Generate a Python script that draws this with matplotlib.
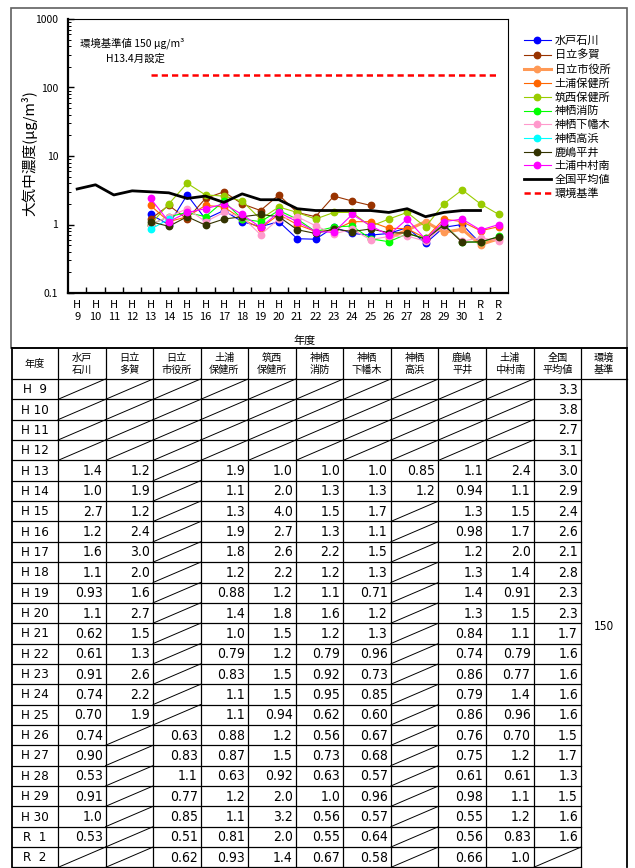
import numpy as np
import matplotlib
matplotlib.use('Agg')
import matplotlib.pyplot as plt
from matplotlib.patches import Rectangle
from matplotlib import font_manager

plt.rcParams['font.family'] = ['Noto Sans CJK JP', 'DejaVu Sans']


def pick_narrow():
    # 表の数字は細身のフォントで描く (無ければ通常の Liberation Sans)
    for fam, stretch in [('Liberation Sans Narrow', 'normal'),
                         ('DejaVu Sans', 'condensed')]:
        try:
            prop = font_manager.FontProperties(family=fam, stretch=stretch)
            path = font_manager.findfont(prop, fallback_to_default=False)
            if 'Narrow' in path or 'Condensed' in path:
                return dict(family=fam, stretch=stretch)
        except Exception:
            pass
    return dict(family='Liberation Sans', stretch='normal')


NARROW = pick_narrow()

W, H = 635, 868
nan = np.nan

# 年度
years = ['H9', 'H10', 'H11', 'H12', 'H13', 'H14', 'H15', 'H16', 'H17', 'H18',
         'H19', 'H20', 'H21', 'H22', 'H23', 'H24', 'H25', 'H26', 'H27', 'H28',
         'H29', 'H30', 'R1', 'R2']
year_ticks = [y[0] + '\n' + y[1:] for y in years]
year_rows = ['H  9', 'H 10', 'H 11', 'H 12', 'H 13', 'H 14', 'H 15', 'H 16',
             'H 17', 'H 18', 'H 19', 'H 20', 'H 21', 'H 22', 'H 23', 'H 24',
             'H 25', 'H 26', 'H 27', 'H 28', 'H 29', 'H 30', 'R  1', 'R  2']

# 測定局ごとの年平均値 (μg/m3)
mito_ishikawa = [nan] * 4 + [1.4, 1.0, 2.7, 1.2, 1.6, 1.1, 0.93, 1.1, 0.62, 0.61,
                             0.91, 0.74, 0.70, 0.74, 0.90, 0.53, 0.91, 1.0, 0.53, nan]
hitachi_taga = [nan] * 4 + [1.2, 1.9, 1.2, 2.4, 3.0, 2.0, 1.6, 2.7, 1.5, 1.3,
                            2.6, 2.2, 1.9, nan, nan, nan, nan, nan, nan, nan]
hitachi_shiyakusho = [nan] * 17 + [0.63, 0.83, 1.1, 0.77, 0.85, 0.51, 0.62]
tsuchiura_hokenjo = [nan] * 4 + [1.9, 1.1, 1.3, 1.9, 1.8, 1.2, 0.88, 1.4, 1.0, 0.79,
                                 0.83, 1.1, 1.1, 0.88, 0.87, 0.63, 1.2, 1.1, 0.81, 0.93]
chikusei_hokenjo = [nan] * 4 + [1.0, 2.0, 4.0, 2.7, 2.6, 2.2, 1.2, 1.8, 1.5, 1.2,
                                1.5, 1.5, 0.94, 1.2, 1.5, 0.92, 2.0, 3.2, 2.0, 1.4]
kamisu_shobo = [nan] * 4 + [1.0, 1.3, 1.5, 1.3, 2.2, 1.2, 1.1, 1.6, 1.2, 0.79,
                            0.92, 0.95, 0.62, 0.56, 0.73, 0.63, 1.0, 0.56, 0.55, 0.67]
kamisu_shimohataki = [nan] * 4 + [1.0, 1.3, 1.7, 1.1, 1.5, 1.3, 0.71, 1.2, 1.3, 0.96,
                                  0.73, 0.85, 0.60, 0.67, 0.68, 0.57, 0.96, 0.57, 0.64, 0.58]
kamisu_takahama = [nan] * 4 + [0.85, 1.2] + [nan] * 18
kashima_hirai = [nan] * 4 + [1.1, 0.94, 1.3, 0.98, 1.2, 1.3, 1.4, 1.3, 0.84, 0.74,
                             0.86, 0.79, 0.86, 0.76, 0.75, 0.61, 0.98, 0.55, 0.56, 0.66]
tsuchiura_nakamura = [nan] * 4 + [2.4, 1.1, 1.5, 1.7, 2.0, 1.4, 0.91, 1.5, 1.1, 0.79,
                                  0.77, 1.4, 0.96, 0.70, 1.2, 0.61, 1.1, 1.2, 0.83, 1.0]
national_avg = [3.3, 3.8, 2.7, 3.1, 3.0, 2.9, 2.4, 2.6, 2.1, 2.8, 2.3, 2.3, 1.7,
                1.6, 1.6, 1.6, 1.6, 1.5, 1.7, 1.3, 1.5, 1.6, 1.6, nan]
standard = 150

stations = ['水戸石川', '日立多賀', '日立市役所', '土浦保健所', '筑西保健所',
            '神栖消防', '神栖下幡木', '神栖高浜', '鹿嶋平井', '土浦中村南']
headers = ['水戸\n石川', '日立\n多賀', '日立\n市役所', '土浦\n保健所', '筑西\n保健所',
           '神栖\n消防', '神栖\n下幡木', '神栖\n高浜', '鹿嶋\n平井', '土浦\n中村南',
           '全国\n平均値', '環境\n基準']
values = [mito_ishikawa, hitachi_taga, hitachi_shiyakusho, tsuchiura_hokenjo,
          chikusei_hokenjo, kamisu_shobo, kamisu_shimohataki, kamisu_takahama,
          kashima_hirai, tsuchiura_nakamura]
colors = ['#0000FF', '#993300', '#FF9955', '#FF6600', '#99CC00',
          '#00FF00', '#FF99CC', '#00FFFF', '#333300', '#FF00FF']
widths = [0.8, 0.8, 2.2, 0.8, 0.8, 0.8, 0.8, 0.8, 0.8, 0.8]

fig = plt.figure(figsize=(W / 100, H / 100), dpi=100)


def fx(x):
    return x / W


def fy(y):
    return 1 - y / H


# グラフ
ax = fig.add_axes([fx(68), fy(293), (508 - 68) / W, (293 - 19) / H])
x = np.arange(len(years))
for name, vals, c, lw in zip(stations, values, colors, widths):
    ax.plot(x, vals, color=c, lw=lw, marker='o', ms=4.6, mfc=c, mec=c,
            label=name)
ax.plot(x, national_avg, color='black', lw=2.0, label='全国平均値')
std_x = x[4:]
ax.plot(std_x, [standard] * len(std_x), color='#FF0000', lw=1.8,
        ls=(0, (2.5, 1.6)), label='環境基準')

ax.set_yscale('log')
ax.set_ylim(0.1, 1000)
ax.set_xlim(-0.5, len(years) - 0.5)
ax.set_yticks([0.1, 1, 10, 100, 1000])
ax.set_yticklabels(['0.1', '1', '10', '100', '1000'])
ax.yaxis.set_minor_locator(matplotlib.ticker.LogLocator(base=10, subs=np.arange(2, 10)))
ax.yaxis.set_minor_formatter(matplotlib.ticker.NullFormatter())
ax.tick_params(axis='y', which='major', direction='in', length=4, width=1,
               labelsize=7.5, pad=7)
ax.tick_params(axis='y', which='minor', direction='in', length=2, width=0.7)
ax.set_xticks(x)
ax.set_xticklabels(year_ticks, fontsize=8, linespacing=1.25)
ax.set_xticks(x[:-1] + 0.5, minor=True)
ax.tick_params(axis='x', which='major', length=0, pad=5)
ax.tick_params(axis='x', which='minor', direction='in', length=4, width=1)
for s in ['left', 'bottom']:
    ax.spines[s].set_linewidth(1.6)
for s in ['top', 'right']:
    ax.spines[s].set_linewidth(0.8)
ax.set_ylabel('大気中濃度(μg/m³)', fontsize=10.5)
ax.yaxis.set_label_coords((37 - 68) / 440, 0.51)

fig.text(fx(80), fy(43), '環境基準値 150 μg/m³', fontsize=7.5, va='center')
fig.text(fx(106), fy(59), 'H13.4月設定', fontsize=7.5, va='center')
fig.text(fx(305), fy(341), '年度', fontsize=8, ha='center', va='center')

handles, labels = ax.get_legend_handles_labels()
fig.legend(handles, labels, loc='upper left', bbox_to_anchor=(fx(524), fy(36)),
           frameon=False, fontsize=8, handlelength=2.4, handletextpad=0.35,
           labelspacing=0.32, borderpad=0, borderaxespad=0)

# 表
tb = fig.add_axes([0, 0, 1, 1], facecolor='none')
tb.set_xlim(0, W)
tb.set_ylim(H, 0)
tb.axis('off')

tb.add_patch(Rectangle((11, 8), 616, 340, fill=False, ec='#606060', lw=1.2))

col_x = [12] + [58 + 47.55 * i for i in range(12)] + [627]
top, head_bot, row_h = 348, 379, 20.35
row_y = [head_bot + row_h * i for i in range(len(years) + 1)]
bottom = row_y[-1]

# 罫線
for cx in col_x:
    lw = 1.3 if cx in (col_x[0], col_x[-1]) else 0.9
    tb.plot([cx, cx], [top, bottom], color='black', lw=lw)
tb.plot([col_x[0], col_x[-1]], [top, top], color='black', lw=1.3)
tb.plot([col_x[0], col_x[-1]], [head_bot, head_bot], color='black', lw=0.9)
for ry in row_y[1:]:
    tb.plot([col_x[0], col_x[-2]], [ry, ry], color='black', lw=0.9)

# 見出し
tb.text((col_x[0] + col_x[1]) / 2, (top + head_bot) / 2, '年度', fontsize=7.3,
        ha='center', va='center')
for i, h in enumerate(headers):
    tb.text((col_x[i + 1] + col_x[i + 2]) / 2, (top + head_bot) / 2 + 0.5, h,
            fontsize=7.3, ha='center', va='center', linespacing=1.15)

table_cols = values + [national_avg]
for r, label in enumerate(year_rows):
    y0, y1 = row_y[r], row_y[r + 1]
    tb.text((col_x[0] + col_x[1]) / 2, (y0 + y1) / 2 + 0.5, label, fontsize=9.5,
            ha='center', va='center', **NARROW)
    for c, col in enumerate(table_cols):
        xl, xr = col_x[c + 1], col_x[c + 2]
        v = col[r]
        if np.isnan(v):
            tb.plot([xl, xr], [y1, y0], color='black', lw=0.7)
        else:
            txt = f'{v:.2f}' if v < 1 else f'{v:.1f}'
            tb.text(xr - 3, (y0 + y1) / 2 + 0.5, txt, fontsize=10,
                    ha='right', va='center', **NARROW)

tb.text((col_x[-2] + col_x[-1]) / 2, 626, str(standard),
        fontsize=8.5, ha='center', va='center', **NARROW)

fig.savefig('out.png', dpi=100)
